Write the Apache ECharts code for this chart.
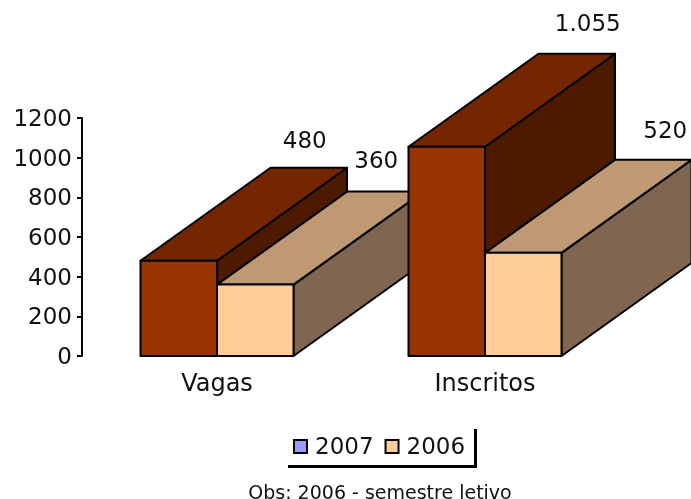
<!DOCTYPE html>
<html><head><meta charset="utf-8">
<style>html,body{margin:0;padding:0;background:#fff}#c{width:691px;height:499px}</style>
<script src="https://cdn.jsdelivr.net/npm/echarts@6/dist/echarts.min.js"></script>
</head><body><div id="c"></div>
<script>
const categories = ['Vagas', 'Inscritos'];
const values2007 = [480, 1055];
const values2006 = [360, 520];
const labels2007 = ['480', '1.055'];
const labels2006 = ['360', '520'];
const yTicks = { min: 0, max: 1200, interval: 200 };

const FONT = '"DejaVu Sans", Verdana, sans-serif';
const DX = 130, DY = -93, BAR_FRACTION = 76.5 / 268;
const palette = {
  2007: { front: '#993300', top: '#732600', side: '#4d1a00' },
  2006: { front: '#ffcc99', top: '#bf9973', side: '#806650' }
};
// label offset from the back-top centre of each box
const labelOffsets = {
  2007: [[-4, -26], [11, -29]],
  2006: [[-9, -30], [12, -28]]
};

function render(year, labels, side) {
  return function (params, api) {
    const i = api.value(0);
    const c = api.coord([i, api.value(1)]);
    const base = api.coord([i, 0]);
    const w = api.size([1, 0])[0] * BAR_FRACTION;
    const x0 = side < 0 ? c[0] - w : c[0];
    const x1 = x0 + w;
    const yt = c[1], yb = base[1];
    const col = palette[year];
    const order = i * 10 + (side < 0 ? 0 : 5);
    const line = { stroke: '#000', lineWidth: 2, lineJoin: 'round' };
    const poly = (pts, fill, z) => ({
      type: 'polygon', z2: order + z,
      shape: { points: pts },
      style: Object.assign({ fill }, line)
    });
    const off = labelOffsets[year][i];
    return {
      type: 'group',
      children: [
        poly([[x1, yt], [x1 + DX, yt + DY], [x1 + DX, yb + DY], [x1, yb]], col.side, 1),
        poly([[x0, yt], [x0 + DX, yt + DY], [x1 + DX, yt + DY], [x1, yt]], col.top, 2),
        poly([[x0, yt], [x1, yt], [x1, yb], [x0, yb]], col.front, 3),
        {
          type: 'text', z2: 100,
          x: (x0 + x1) / 2 + DX + off[0],
          y: yt + DY + off[1],
          style: {
            text: labels[i], fill: '#111', font: '23px ' + FONT,
            align: 'center', verticalAlign: 'middle'
          }
        }
      ]
    };
  };
}

const shifted = { fontFamily: FONT, fontSize: 23, color: '#111', padding: [4, 0, 0, 0] };

const chart = echarts.init(document.getElementById('c'), null, { renderer: 'canvas' });
chart.setOption({
  animation: false,
  backgroundColor: '#fff',
  grid: { left: 83, right: 72, top: 118, bottom: 143, containLabel: false },
  title: {
    text: 'Obs: 2006 - semestre letivo', left: 375, top: 480, textAlign: 'center',
    textStyle: { fontFamily: FONT, fontSize: 19, fontWeight: 'normal', color: '#111' }
  },
  legend: {
    left: 293, top: 437, orient: 'horizontal', icon: 'rect',
    itemWidth: 13, itemHeight: 13, itemGap: 11, padding: 0,
    formatter: '{a|{name}}',
    textStyle: { fontFamily: FONT, fontSize: 23, color: '#111', padding: [0, 0, 0, 3], rich: { a: shifted } },
    data: [
      { name: '2007', itemStyle: { color: '#9999ff', borderColor: '#000', borderWidth: 2 } },
      { name: '2006', itemStyle: { color: '#ffcc99', borderColor: '#000', borderWidth: 2 } }
    ]
  },
  graphic: [
    { type: 'polyline', shape: { points: [[475.5, 429], [475.5, 466.5], [288, 466.5]] },
      style: { stroke: '#000', lineWidth: 3, fill: null } }
  ],
  xAxis: {
    type: 'category', data: categories, boundaryGap: true,
    axisLine: { show: false }, axisTick: { show: false },
    axisLabel: { fontFamily: FONT, fontSize: 24, color: '#111', margin: 17 }
  },
  yAxis: {
    type: 'value', min: yTicks.min, max: yTicks.max, interval: yTicks.interval, offset: 1,
    splitLine: { show: false },
    axisLine: { show: true, lineStyle: { color: '#000', width: 2 } },
    axisTick: { show: true, length: 5, lineStyle: { color: '#000', width: 2 } },
    axisLabel: { margin: 10, formatter: v => '{a|' + v + '}', rich: { a: shifted } }
  },
  series: [
    { type: 'custom', name: '2007', clip: false, encode: { x: 0, y: 1 },
      itemStyle: { color: '#9999ff' },
      data: values2007.map((v, i) => [i, v]), renderItem: render(2007, labels2007, -1) },
    { type: 'custom', name: '2006', clip: false, encode: { x: 0, y: 1 },
      itemStyle: { color: '#ffcc99' },
      data: values2006.map((v, i) => [i, v]), renderItem: render(2006, labels2006, 1) }
  ]
});
</script></body></html>
